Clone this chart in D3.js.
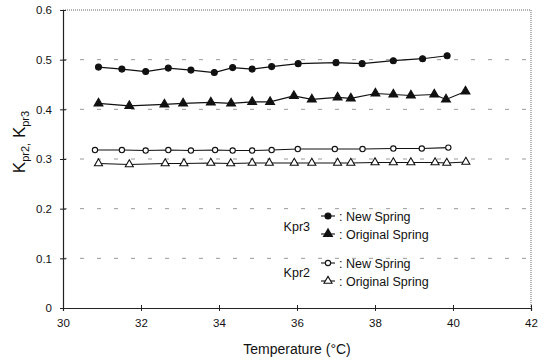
<!DOCTYPE html>
<html>
<head>
<meta charset="utf-8">
<script src="https://cdn.jsdelivr.net/npm/d3@7"></script>
<style>
  body { margin: 0; background: #fff; }
  svg { display: block; font-family: "Liberation Sans", Arial, sans-serif; }
</style>
</head>
<body>
<script>
// Kpr3, new spring (filled circles)
var newKpr3Temp = [30.91, 31.51, 32.12, 32.70, 33.28, 33.88, 34.35, 34.85, 35.35, 36.03, 37.0, 37.67, 38.47, 39.22, 39.85];
var newKpr3Val  = [0.485, 0.481, 0.476, 0.483, 0.479, 0.474, 0.484, 0.481, 0.486, 0.492, 0.494, 0.492, 0.498, 0.502, 0.508];

// Kpr3, original spring (filled triangles)
var origKpr3Temp = [30.91, 31.70, 32.60, 33.08, 33.79, 34.31, 34.85, 35.31, 35.92, 36.38, 37.04, 37.38, 38.01, 38.47, 38.92, 39.52, 39.82, 40.32];
var origKpr3Val  = [0.412, 0.407, 0.410, 0.412, 0.414, 0.412, 0.415, 0.415, 0.427, 0.420, 0.424, 0.422, 0.432, 0.430, 0.428, 0.430, 0.420, 0.436];

// Kpr2, new spring (open circles)
var newKpr2Temp = [30.82, 31.51, 32.12, 32.70, 33.28, 33.90, 34.35, 34.85, 35.35, 36.02, 36.97, 37.68, 38.47, 39.20, 39.88];
var newKpr2Val  = [0.318, 0.318, 0.317, 0.318, 0.317, 0.318, 0.317, 0.317, 0.318, 0.320, 0.320, 0.320, 0.321, 0.321, 0.323];

// Kpr2, original spring (open triangles)
var origKpr2Temp = [30.91, 31.70, 32.62, 33.10, 33.79, 34.30, 34.85, 35.29, 35.93, 36.38, 37.04, 37.38, 38.00, 38.47, 38.92, 39.54, 39.84, 40.33];
var origKpr2Val  = [0.291, 0.289, 0.291, 0.291, 0.292, 0.291, 0.292, 0.292, 0.292, 0.292, 0.292, 0.292, 0.293, 0.293, 0.293, 0.293, 0.292, 0.294];

var xTicks = [30, 32, 34, 36, 38, 40, 42];
var yTicks = [0, 0.1, 0.2, 0.3, 0.4, 0.5, 0.6];
var gridValues = [0.1, 0.2, 0.3, 0.4, 0.5];

var svgWidth = 545, svgHeight = 360;
var margin = { top: 10, right: 14, bottom: 52, left: 63 };
var width = svgWidth - margin.left - margin.right;
var height = svgHeight - margin.top - margin.bottom;

var svg = d3.select("body").append("svg")
  .attr("width", svgWidth)
  .attr("height", svgHeight);

var g = svg.append("g")
  .attr("transform", `translate(${margin.left},${margin.top})`);

var x = d3.scaleLinear().domain([30, 42]).range([0, width]);
var y = d3.scaleLinear().domain([0, 0.6]).range([height, 0]);

// dashed grid lines
g.selectAll(".grid")
  .data(gridValues)
  .enter().append("line")
  .attr("class", "grid")
  .attr("x1", 0).attr("x2", width)
  .attr("y1", d => y(d)).attr("y2", d => y(d))
  .attr("stroke", "#999")
  .attr("stroke-width", 1)
  .attr("stroke-dasharray", "4,13");

// dotted top and right border
g.append("line")
  .attr("x1", 0).attr("x2", width).attr("y1", 0).attr("y2", 0)
  .attr("stroke", "#666").attr("stroke-dasharray", "1,1");
g.append("line")
  .attr("x1", width).attr("x2", width).attr("y1", 0).attr("y2", height)
  .attr("stroke", "#666").attr("stroke-dasharray", "1,1");

// axes
var xAxis = d3.axisBottom(x).tickValues(xTicks).tickSize(3).tickPadding(8).tickFormat(d => d);
var yAxis = d3.axisLeft(y).tickValues(yTicks).tickSize(3).tickPadding(8).tickFormat(d => d);

var xg = g.append("g")
  .attr("transform", `translate(0,${height})`)
  .call(xAxis);
xg.selectAll(".tick line").attr("y1", -3);

var yg = g.append("g").call(yAxis);
yg.selectAll(".tick line").attr("x1", 3);

[xg, yg].forEach(function(a) {
  a.select(".domain").attr("stroke", "#222").attr("stroke-width", 1.2);
  a.selectAll(".tick line").attr("stroke", "#222");
  a.selectAll("text").attr("font-size", 11.5).attr("fill", "#111")
    .attr("font-family", "Liberation Sans, Arial, sans-serif");
});

// axis titles
svg.append("text")
  .attr("x", margin.left + width / 2)
  .attr("y", 354)
  .attr("text-anchor", "middle")
  .attr("font-size", 14)
  .attr("fill", "#111")
  .text("Temperature (°C)");

var yTitle = svg.append("text")
  .attr("transform", "translate(25,142) rotate(-90)")
  .attr("text-anchor", "middle")
  .attr("font-size", 17)
  .attr("fill", "#111");
yTitle.append("tspan").text("K");
yTitle.append("tspan").attr("font-size", 11).attr("dy", 4).text("pr2,");
yTitle.append("tspan").attr("dy", -4).text("  K");
yTitle.append("tspan").attr("font-size", 11).attr("dy", 4).text("pr3");

// series
var series = [
  { temp: newKpr3Temp, val: newKpr3Val, shape: d3.symbolCircle, size: 28, fill: "#111" },
  { temp: origKpr3Temp, val: origKpr3Val, shape: d3.symbolTriangle, size: 34, fill: "#111" },
  { temp: newKpr2Temp, val: newKpr2Val, shape: d3.symbolCircle, size: 22, fill: "#fff" },
  { temp: origKpr2Temp, val: origKpr2Val, shape: d3.symbolTriangle, size: 28, fill: "#fff" }
];

var line = d3.line().x(d => x(d[0])).y(d => y(d[1]));

series.forEach(function(s) {
  var pts = d3.zip(s.temp, s.val);
  g.append("path")
    .datum(pts)
    .attr("d", line)
    .attr("fill", "none")
    .attr("stroke", "#111")
    .attr("stroke-width", 1.1);
  g.selectAll(null)
    .data(pts)
    .enter().append("path")
    .attr("transform", d => `translate(${x(d[0])},${y(d[1])})`)
    .attr("d", d3.symbol().type(s.shape).size(s.size))
    .attr("fill", s.fill)
    .attr("stroke", "#111")
    .attr("stroke-width", 1.1);
});

// legend
var legendRows = [
  { s: series[0], ly: 216, text: ": New Spring" },
  { s: series[1], ly: 234, text: ": Original Spring" },
  { s: series[2], ly: 263, text: ": New Spring" },
  { s: series[3], ly: 281, text: ": Original Spring" }
];
var legend = svg.append("g");
legendRows.forEach(function(r) {
  legend.append("line")
    .attr("x1", 321).attr("x2", 335).attr("y1", r.ly).attr("y2", r.ly)
    .attr("stroke", "#111").attr("stroke-width", 1.1);
  legend.append("path")
    .attr("transform", `translate(328,${r.ly})`)
    .attr("d", d3.symbol().type(r.s.shape).size(r.s.size))
    .attr("fill", r.s.fill).attr("stroke", "#111").attr("stroke-width", 1.1);
  legend.append("text")
    .attr("x", 339).attr("y", r.ly + 4.5)
    .attr("font-size", 12.5).attr("fill", "#111")
    .text(r.text);
});
legend.append("text").attr("x", 310).attr("y", 231).attr("text-anchor", "end")
  .attr("font-size", 12.5).attr("fill", "#111").text("Kpr3");
legend.append("text").attr("x", 310).attr("y", 277).attr("text-anchor", "end")
  .attr("font-size", 12.5).attr("fill", "#111").text("Kpr2");
</script>
</body>
</html>
